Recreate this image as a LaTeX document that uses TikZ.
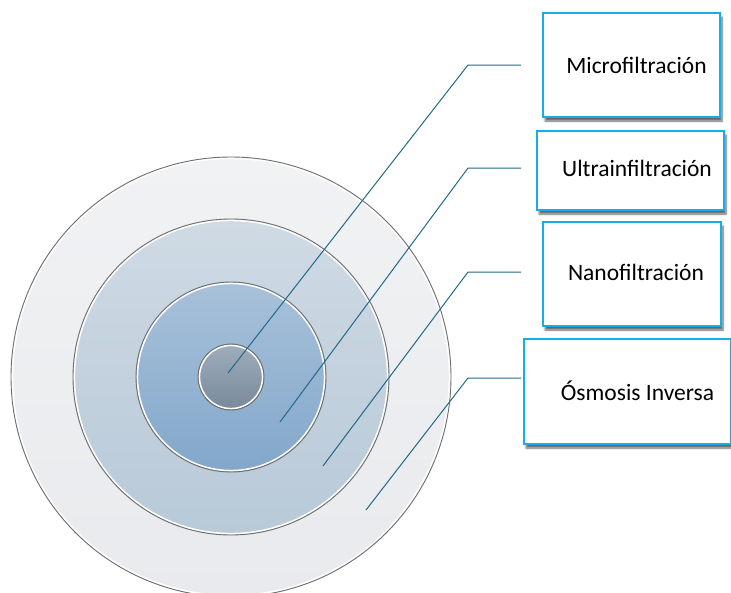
\documentclass[tikz,border=0pt]{standalone}
\usepackage{fontspec}
\setmainfont{Carlito}
\usetikzlibrary{shadows.blur}
\definecolor{ringgray}{HTML}{6E6E6E}
\definecolor{boxblue}{HTML}{16AEEA}
\definecolor{leader}{HTML}{22688A}
\definecolor{r1t}{HTML}{F1F2F4}\definecolor{r1b}{HTML}{E8EAED}
\definecolor{r2t}{HTML}{CFDAE4}\definecolor{r2b}{HTML}{B8C9D8}
\definecolor{r3t}{HTML}{A8C1DA}\definecolor{r3b}{HTML}{82A7CA}
\definecolor{r4t}{HTML}{9EADBC}\definecolor{r4b}{HTML}{78899B}
\tikzset{
  ringline/.style={draw=ringgray, line width=0.9pt},
  whiteline/.style={draw=white, line width=1.6pt},
  labelbox/.style={draw=boxblue, line width=2.8pt, fill=white, inner sep=0pt,
    blur shadow={shadow xshift=2pt, shadow yshift=-4pt, shadow blur steps=6, shadow opacity=60}},
  labeltext/.style={font=\fontsize{23.5}{28}\selectfont, text=black, inner sep=0pt},
  leaderline/.style={draw=leader, line width=1pt}
}
\begin{document}
\begin{tikzpicture}[x=1pt,y=-1pt]
\useasboundingbox (0,0) rectangle (731,592);
\coordinate (c) at (231,377);
% rings
\shade[top color=r1t, bottom color=r1b] (c) circle[radius=220];
\draw[whiteline] (c) circle[radius=218.6];
\draw[ringline] (c) circle[radius=220];
\shade[top color=r2t, bottom color=r2b] (c) circle[radius=158];
\draw[whiteline] (c) circle[radius=156.6];
\draw[ringline] (c) circle[radius=158];
\shade[top color=r3t, bottom color=r3b] (c) circle[radius=95];
\draw[whiteline] (c) circle[radius=93.6];
\draw[ringline] (c) circle[radius=95];
\shade[top color=r4t, bottom color=r4b] (c) circle[radius=33];
\draw[whiteline] (c) circle[radius=31.6];
\draw[ringline] (c) circle[radius=33];
% boxes
\node[labelbox, minimum width=177pt, minimum height=104pt] (bm) at (631.5,65) {};
\node[labelbox, minimum width=187pt, minimum height=79pt] (bu) at (630.5,170.5) {};
\node[labelbox, minimum width=178pt, minimum height=104pt] (bn) at (632,274) {};
\node[labelbox, minimum width=207pt, minimum height=105pt] (bo) at (627.5,391.5) {};
\node[labeltext] (tm) at (636.5,65) {Microfiltración};
\node[labeltext] (tu) at (637,168) {Ultrainfiltración};
\node[labeltext] (tn) at (636,272) {Nanofiltración};
\node[labeltext] (to) at (637.5,391) {Ósmosis Inversa};
% leader coordinates
\coordinate (pm) at (228,373); \coordinate (km) at (468,65);  \coordinate (em) at (521,65);
\coordinate (pu) at (280,422); \coordinate (ku) at (468,168); \coordinate (eu) at (521,168);
\coordinate (pn) at (323,466); \coordinate (kn) at (468,272); \coordinate (en) at (521,272);
\coordinate (po) at (366,510); \coordinate (ko) at (468,378); \coordinate (eo) at (521,378);
\draw[leaderline] (pm) -- (km) -- (em);
\draw[leaderline] (pu) -- (ku) -- (eu);
\draw[leaderline] (pn) -- (kn) -- (en);
\draw[leaderline] (po) -- (ko) -- (eo);
\end{tikzpicture}
\end{document}
